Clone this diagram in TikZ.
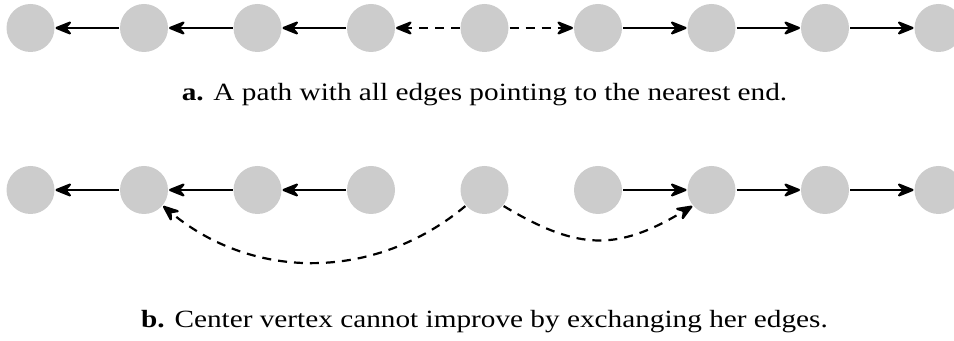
\documentclass[tikz,border=0pt]{standalone}
\usepackage{fontspec}
\setmainfont[FakeStretch=1.18]{Liberation Serif}
\usetikzlibrary{arrows.meta}

\tikzset{
  vertex/.style={circle, fill=black!20, draw=none, minimum size=24pt, inner sep=0pt, outer sep=0.5pt},
  edge/.style={line width=1.1pt, -{Stealth[length=10pt, width=8pt, inset=3.5pt, round]}},
  dashedge/.style={edge, dash pattern=on 4.5pt off 3.5pt},
  caption/.style={anchor=base, inner sep=0pt, font=\fontsize{12.4}{14}\selectfont}
}

\begin{document}
\begin{tikzpicture}[x=0.5pt, y=-0.5pt]
  \useasboundingbox (0,0) rectangle (954,341);
  \clip (0,0) rectangle (954,341);

  % (a) path, every edge pointing to the nearest end
  \foreach \i in {1,...,9} {
    \node[vertex] (t\i) at ({30.5+113.5*(\i-1)}, 28) {};
  }
  \draw[edge] (t2) -- (t1);
  \draw[edge] (t3) -- (t2);
  \draw[edge] (t4) -- (t3);
  \draw[dashedge] (t5) -- (t4);
  \draw[dashedge] (t5) -- (t6);
  \draw[edge] (t6) -- (t7);
  \draw[edge] (t7) -- (t8);
  \draw[edge] (t8) -- (t9);
  \node[caption] (capa) at (484.5, 101) {\textbf{a.} A path with all edges pointing to the nearest end.};

  % (b) center vertex swapping its edges
  \foreach \i in {1,...,9} {
    \node[vertex] (b\i) at ({30.5+113.5*(\i-1)}, 190) {};
  }
  \draw[edge] (b2) -- (b1);
  \draw[edge] (b3) -- (b2);
  \draw[edge] (b4) -- (b3);
  \draw[edge] (b6) -- (b7);
  \draw[edge] (b7) -- (b8);
  \draw[edge] (b8) -- (b9);
  \draw[dashedge] (b5.220) .. controls +(-90,75) and +(90,75) .. (b2.-40);
  \draw[dashedge] (b5.-40) .. controls +(75,45) and +(-75,45) .. (b7.220);
  \node[caption] (capb) at (484.5, 328) {\textbf{b.} Center vertex cannot improve by exchanging her edges.};
\end{tikzpicture}
\end{document}
